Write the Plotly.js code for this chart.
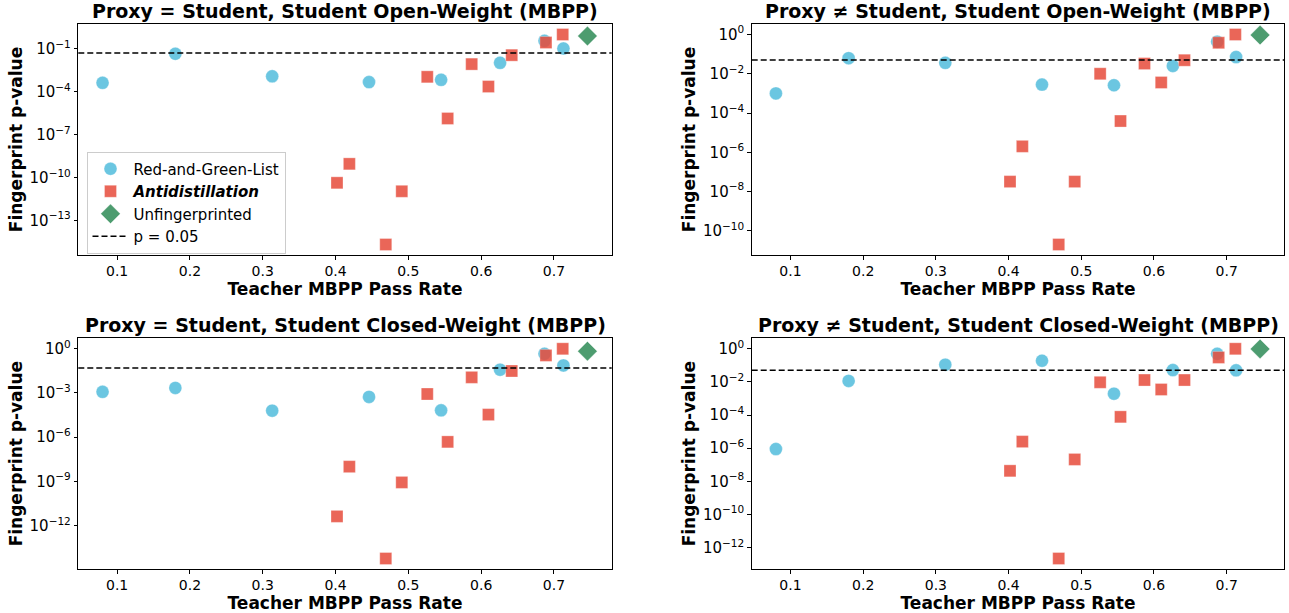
<!DOCTYPE html>
<html>
<head>
<meta charset="utf-8">
<script src="https://cdn.plot.ly/plotly-3.0.1.min.js"></script>
<style>html,body{margin:0;padding:0;background:#fff;}#chart{width:1289px;height:613px;}</style>
</head>
<body>
<div id="chart"></div>
<script>
// ---- data ----
const panelTitles = [
  "Proxy = Student, Student Open-Weight (MBPP)",
  "Proxy \u2260 Student, Student Open-Weight (MBPP)",
  "Proxy = Student, Student Closed-Weight (MBPP)",
  "Proxy \u2260 Student, Student Closed-Weight (MBPP)"
];
const xAxisLabel = "Teacher MBPP Pass Rate";
const yAxisLabel = "Fingerprint p-value";
const seriesNames = ["Red-and-Green-List", "<b><i>Antidistillation</i></b>", "Unfingerprinted", "p = 0.05"];
const threshold = 0.05;

const rglX = [0.080, 0.180, 0.313, 0.446, 0.545, 0.626, 0.687, 0.713];
const antiX = [0.402, 0.419, 0.469, 0.491, 0.526, 0.554, 0.587, 0.610, 0.642, 0.689, 0.712];
const unfpX = [0.746];

// panel 1: Proxy = Student, Open-Weight
const rglP1 = [4.2e-4, 4.5e-2, 1.2e-3, 4.7e-4, 6.8e-4, 1.05e-2, 0.36, 0.105];
const antiP1 = [4.3e-11, 9.1e-10, 2.1e-15, 1.1e-11, 1.1e-3, 1.35e-6, 8.5e-3, 2.3e-4, 3.6e-2, 0.275, 1.0];
const unfpP1 = [0.78];
// panel 2: Proxy != Student, Open-Weight
const rglP2 = [1.0e-3, 6.2e-2, 3.6e-2, 2.8e-3, 2.6e-3, 2.5e-2, 0.43, 7.1e-2];
const antiP2 = [3.2e-8, 2.0e-6, 2.0e-11, 3.2e-8, 1.0e-2, 3.9e-5, 3.3e-2, 3.6e-3, 4.9e-2, 0.38, 1.0];
const unfpP2 = [0.93];
// panel 3: Proxy = Student, Closed-Weight
const rglP3 = [1.2e-3, 2.2e-3, 6.3e-5, 5.4e-4, 6.6e-5, 3.8e-2, 0.46, 7.4e-2];
const antiP3 = [4.2e-12, 1.0e-8, 5.8e-15, 8.5e-10, 8.5e-4, 4.8e-7, 1.15e-2, 3.4e-5, 3.1e-2, 0.355, 1.0];
const unfpP3 = [0.69];
// panel 4: Proxy != Student, Closed-Weight
const rglP4 = [8.9e-7, 1.15e-2, 0.11, 0.19, 1.95e-3, 5.2e-2, 0.50, 5.0e-2];
const antiP4 = [4.3e-8, 2.5e-6, 2.2e-13, 2.1e-7, 9.5e-3, 7.8e-5, 1.3e-2, 3.5e-3, 1.3e-2, 0.30, 1.0];
const unfpP4 = [0.98];

const xTickVals = [0.1, 0.2, 0.3, 0.4, 0.5, 0.6, 0.7];
const yTickExps = [
  [-1, -4, -7, -10, -13],
  [0, -2, -4, -6, -8, -10],
  [0, -3, -6, -9, -12],
  [0, -2, -4, -6, -8, -10, -12]
];

// ---- styling ----
const blue = "#5bc0de", red = "#e74c3c", green = "#2e8b57";
const font = "DejaVu Sans, sans-serif";
const panels = [
  {rgl: rglP1, anti: antiP1, unfp: unfpP1},
  {rgl: rglP2, anti: antiP2, unfp: unfpP2},
  {rgl: rglP3, anti: antiP3, unfp: unfpP3},
  {rgl: rglP4, anti: antiP4, unfp: unfpP4}
];
const W = 1289, H = 613;
const xDomains = [[78.3/W, 611.7/W], [751.7/W, 1284.3/W]];
const yDomains = [[1 - 255/H, 1 - 24/H], [1 - 569/H, 1 - 338.3/H]];

function pad(lo, hi) { const m = (hi - lo) * 0.05; return [lo - m, hi + m]; }
const allX = rglX.concat(antiX, unfpX);
const xRange = pad(Math.min(...allX), Math.max(...allX));

const traces = [];
const shapes = [];
const annotations = [];
const layout = {
  width: W, height: H,
  margin: {l: 0, r: 0, t: 0, b: 0},
  paper_bgcolor: "#fff", plot_bgcolor: "#fff",
  font: {family: font, size: 14, color: "#000"},
  showlegend: true,
  legend: {
    x: 86.5/W, y: 1 - 151.5/H, xanchor: "left", yanchor: "top",
    bgcolor: "rgba(255,255,255,0.8)", bordercolor: "#cccccc", borderwidth: 1,
    font: {family: font, size: 15, color: "#000"},
    tracegroupgap: 0, itemwidth: 36
  }
};

panels.forEach((p, i) => {
  const k = i + 1;
  const xa = "x" + (k === 1 ? "" : k), ya = "y" + (k === 1 ? "" : k);
  const xk = "xaxis" + (k === 1 ? "" : k), yk = "yaxis" + (k === 1 ? "" : k);
  const col = i % 2, row = Math.floor(i / 2);
  const all = p.rgl.concat(p.anti, p.unfp).map(v => Math.log10(v));
  const yr = pad(Math.min(...all), Math.max(...all));
  const show = i === 0;
  traces.push({type: "scatter", mode: "markers", x: rglX, y: p.rgl, xaxis: xa, yaxis: ya,
    name: seriesNames[0], showlegend: show, legendrank: 1,
    marker: {symbol: "circle", size: 13, color: blue, opacity: 0.9, line: {width: 0.5, color: "rgba(255,255,255,0.6)"}}});
  traces.push({type: "scatter", mode: "markers", x: antiX, y: p.anti, xaxis: xa, yaxis: ya,
    name: seriesNames[1], showlegend: show, legendrank: 2,
    marker: {symbol: "square", size: 12, color: red, opacity: 0.85, line: {width: 0.5, color: "rgba(255,255,255,0.6)"}}});
  traces.push({type: "scatter", mode: "markers", x: unfpX, y: p.unfp, xaxis: xa, yaxis: ya,
    name: seriesNames[2], showlegend: show, legendrank: 3,
    marker: {symbol: "diamond", size: 15, color: green, opacity: 0.85, line: {width: 0.5, color: "rgba(255,255,255,0.6)"}}});
  shapes.push({type: "line", xref: xa + " domain", yref: ya, x0: 0, x1: 1, y0: threshold, y1: threshold,
    line: {color: "#000", width: 1.5, dash: "6px,3px"}, showlegend: show, name: seriesNames[3], legendrank: 4});
  layout[xk] = {
    domain: xDomains[col], anchor: ya, range: xRange, type: "linear",
    tickmode: "array", tickvals: xTickVals, ticktext: xTickVals.map(v => v.toFixed(1)),
    ticks: "outside", ticklen: 3.5, tickwidth: 1, tickcolor: "#000",
    showline: true, linecolor: "#000", linewidth: 1, mirror: true,
    showgrid: false, zeroline: false,
    tickfont: {family: font, size: 14, color: "#000"},
    title: {text: "<b>" + xAxisLabel + "</b>", font: {family: font, size: 17, color: "#000"}, standoff: 2}
  };
  layout[yk] = {
    domain: yDomains[row], anchor: xa, range: yr, type: "log",
    tickmode: "array", tickvals: yTickExps[i].map(e => Math.pow(10, e)),
    ticktext: yTickExps[i].map(e => "10<sup>" + (e < 0 ? "\u2212" + (-e) : e) + "</sup>"),
    ticks: "outside", ticklen: 3.5, tickwidth: 1, tickcolor: "#000",
    showline: true, linecolor: "#000", linewidth: 1, mirror: true,
    showgrid: false, zeroline: false,
    tickfont: {family: font, size: 15, color: "#000"},
    title: {text: "<b>" + yAxisLabel + "</b>", font: {family: font, size: 17, color: "#000"}, standoff: 2}
  };
  annotations.push({
    xref: "paper", yref: "paper",
    x: (xDomains[col][0] + xDomains[col][1]) / 2, y: yDomains[row][1],
    xanchor: "center", yanchor: "bottom", yshift: 0, showarrow: false,
    text: "<b>" + panelTitles[i] + "</b>",
    font: {family: font, size: 19, color: "#000"}
  });
});
layout.shapes = shapes;
layout.annotations = annotations;

Plotly.newPlot("chart", traces, layout, {staticPlot: true, displayModeBar: false});
</script>
</body>
</html>
